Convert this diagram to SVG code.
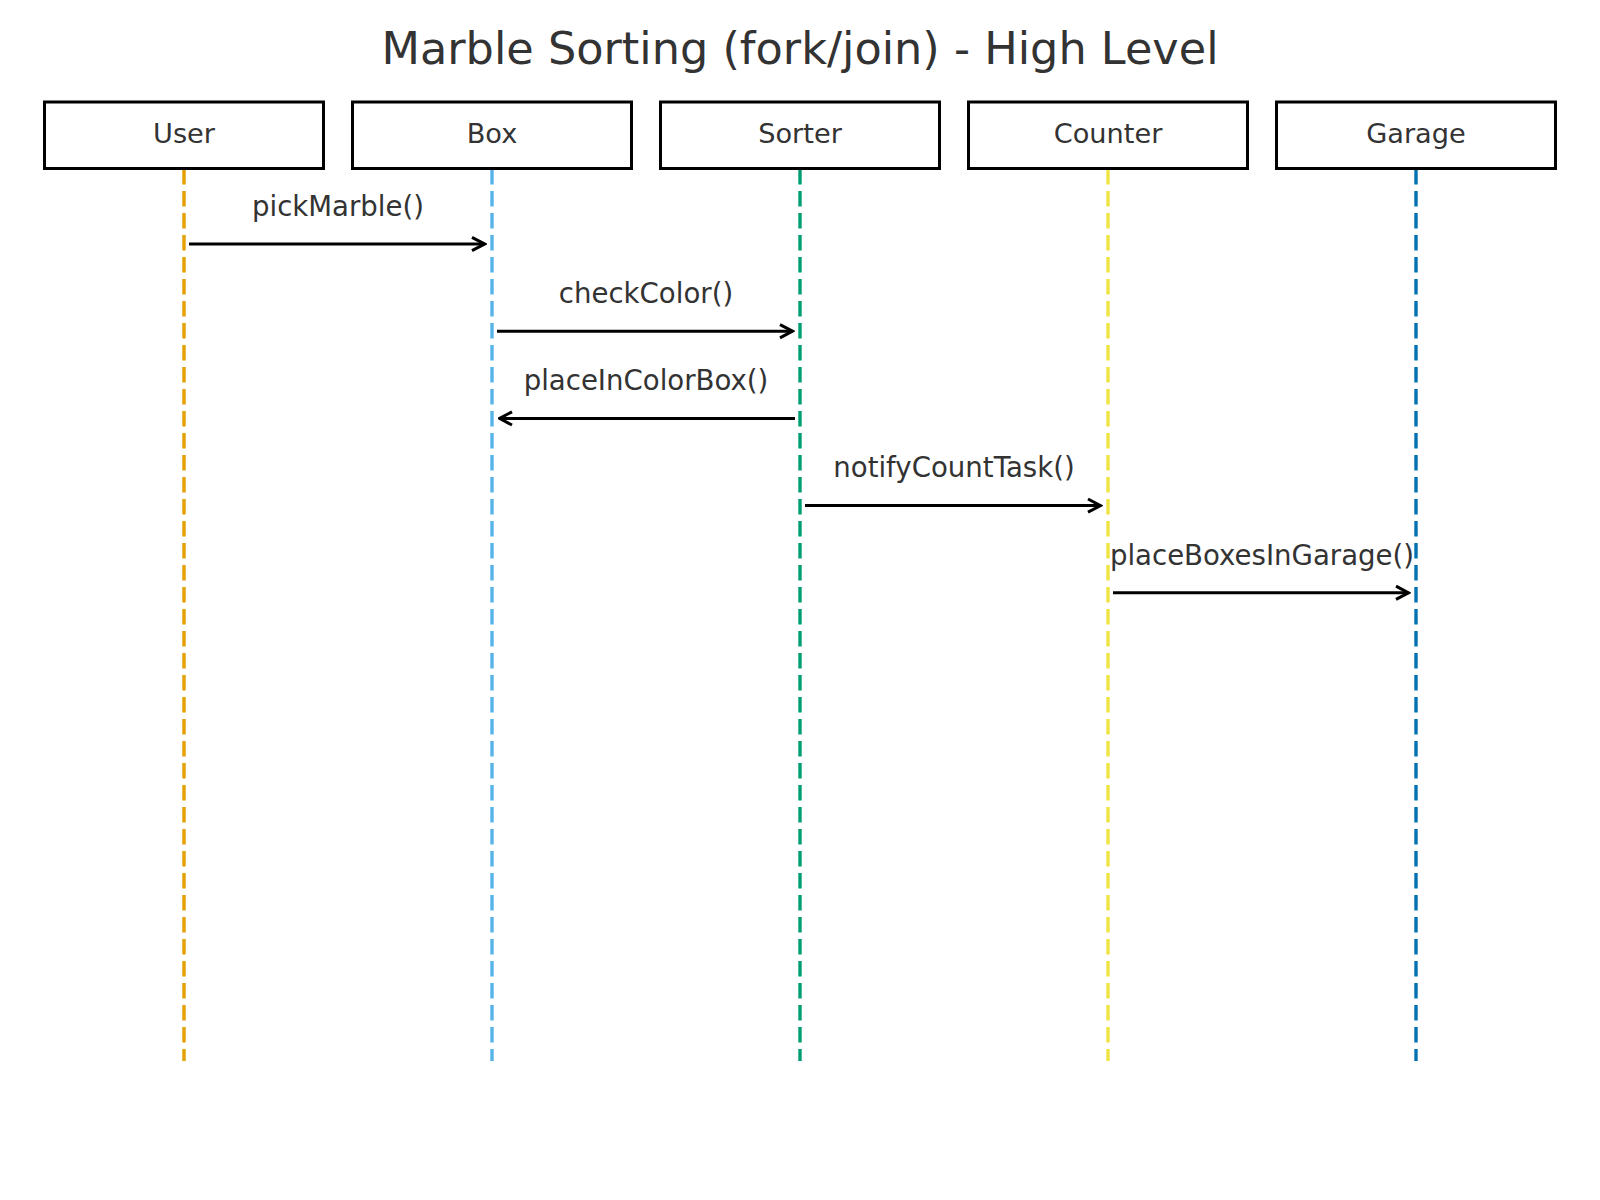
<svg xmlns="http://www.w3.org/2000/svg" width="1600" height="1200" viewBox="0 0 1600 1200">
  <style>
    text { font-family: "DejaVu Sans", "Liberation Sans", sans-serif; fill: #333333; }
    .title { font-size: 44.6px; text-anchor: middle; }
    .actor rect { fill: #ffffff; stroke: #000000; stroke-width: 3; }
    .actor text { font-size: 27.2px; text-anchor: middle; }
    .life { stroke-width: 3.4; stroke-dasharray: 15.4 6.6; fill: none; }
    .msg line { stroke: #000000; stroke-width: 3; marker-end: url(#arrow); }
    .msg text { font-size: 27.6px; text-anchor: middle; }
  </style>
  <defs>
    <marker id="arrow" viewBox="-16 -10 18 20" markerWidth="18" markerHeight="20" refX="0" refY="0" orient="auto" markerUnits="userSpaceOnUse">
      <path d="M-12.5,-6.6 L0,0 L-12.5,6.6" fill="none" stroke="#000000" stroke-width="3" stroke-linejoin="miter"/>
    </marker>
  </defs>
  <rect x="0" y="0" width="1600" height="1200" fill="#ffffff"/>
  <text class="title" x="800" y="64">Marble Sorting (fork/join) - High Level</text>

  <g id="lifelines">
    <line class="life" x1="184" y1="169" x2="184" y2="1061" stroke="#E69F00"/>
    <line class="life" x1="492" y1="169" x2="492" y2="1061" stroke="#56B4E9"/>
    <line class="life" x1="800" y1="169" x2="800" y2="1061" stroke="#009E73"/>
    <line class="life" x1="1108" y1="169" x2="1108" y2="1061" stroke="#F0E442"/>
    <line class="life" x1="1416" y1="169" x2="1416" y2="1061" stroke="#0072B2"/>
  </g>

  <g id="user" class="actor">
    <rect x="44.5" y="102" width="279" height="66.5"/>
    <text x="184" y="143">User</text>
  </g>
  <g id="box" class="actor">
    <rect x="352.5" y="102" width="279" height="66.5"/>
    <text x="492" y="143">Box</text>
  </g>
  <g id="sorter" class="actor">
    <rect x="660.5" y="102" width="279" height="66.5"/>
    <text x="800" y="143">Sorter</text>
  </g>
  <g id="counter" class="actor">
    <rect x="968.5" y="102" width="279" height="66.5"/>
    <text x="1108" y="143">Counter</text>
  </g>
  <g id="garage" class="actor">
    <rect x="1276.5" y="102" width="279" height="66.5"/>
    <text x="1416" y="143">Garage</text>
  </g>

  <g id="connectors" class="msg">
    <line x1="189" y1="244" x2="484.5" y2="244"/>
    <text x="338" y="215.7">pickMarble()</text>
    <line x1="497" y1="331.2" x2="792.5" y2="331.2"/>
    <text x="646" y="303">checkColor()</text>
    <line x1="795" y1="418.4" x2="499.5" y2="418.4"/>
    <text x="646" y="390">placeInColorBox()</text>
    <line x1="805" y1="505.6" x2="1100.5" y2="505.6"/>
    <text x="954" y="477.3">notifyCountTask()</text>
    <line x1="1113" y1="592.8" x2="1408.5" y2="592.8"/>
    <text x="1262" y="564.5">placeBoxesInGarage()</text>
  </g>
</svg>
